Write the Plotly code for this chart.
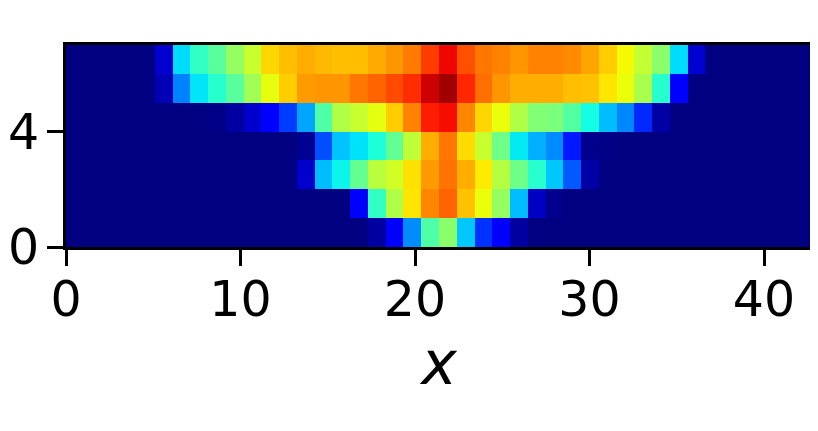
"""Jet heatmap of a 42 x 7 field, axes in the matplotlib look."""

import plotly.graph_objects as go

# one list per row, bottom row first, values on a 0-1 scale
row0 = [0] * 17 + [.028, .11, .262, .447, .52, .321, .174, .11, .028] + [0] * 16
row1 = [0] * 16 + [.11, .411, .563, .666, .767, .804, .704, .636, .532, .311, .06, .01] + [0] * 14
row2 = [0] * 13 + [.067, .311, .365, .472, .575, .605, .672, .746, .788, .725, .661, .569, .484, .399, .321, .213, .034] + [0] * 12
row3 = [0] * 13 + [.015, .203, .316, .346, .386, .472, .581, .725, .783, .677, .593, .484, .355, .297, .262, .15, .01, .005] + [0] * 11
row4 = [0] * 8 + [.005, .028, .067, .11, .184, .287, .447, .563, .593, .63, .693, .772, .878, .897, .767, .682, .636, .563,
                  .508, .502, .453, .374, .311, .257, .164, .034] + [0] * 8
row5 = [0] * 5 + [.045, .252, .35, .399, .459, .545, .63, .693, .746, .751, .751, .783, .804, .831, .862, .933, .972, .868,
                  .793, .751, .725, .725, .725, .709, .704, .666, .636, .557, .399, .11] + [0] * 7
row6 = [0] * 5 + [.07, .341, .411, .459, .532, .593, .682, .709, .725, .714, .709, .709, .73, .751, .778, .846, .903, .825,
                  .783, .772, .751, .772, .772, .762, .735, .693, .645, .587, .52, .341, .07] + [0] * 6
z_rows = [row0, row1, row2, row3, row4, row5, row6]

x_ticks = [0, 10, 20, 30, 40]
y_ticks = [0, 4]
x_max = 42.75

# matplotlib's jet, plotly's built-in one has different stops
jet = [
    [0, "rgb(0,0,128)"], [.11, "rgb(0,0,255)"], [.125, "rgb(0,0,255)"], [.34, "rgb(0,219,255)"],
    [.35, "rgb(0,229,247)"], [.375, "rgb(20,255,226)"], [.64, "rgb(238,255,8)"], [.65, "rgb(247,245,0)"],
    [.66, "rgb(255,236,0)"], [.89, "rgb(255,18,0)"], [.91, "rgb(232,0,0)"], [1, "rgb(128,0,0)"],
]

fig = go.Figure(
    go.Heatmap(z=z_rows, x0=x_max / 42 / 2, dx=x_max / 42, y0=0.5, dy=1, colorscale=jet, zmin=0, zmax=1, showscale=False)
)

# template turns automargin on, which would drag the plot area around
axis_style = dict(
    showgrid=False, zeroline=False, showline=True, mirror=True, linecolor="black", linewidth=3,
    ticks="outside", ticklen=16, tickwidth=3, tickcolor="black", automargin=False,
)
fig.update_xaxes(
    range=[0, x_max], tickvals=x_ticks, ticklabelstandoff=-9,
    title=dict(text="<i>x</i>", font=dict(size=60), standoff=10), **axis_style
)
fig.update_yaxes(range=[0, 7], tickvals=y_ticks, ticklabelstandoff=-2, **axis_style)
fig.update_layout(
    width=810, height=415,
    margin=dict(l=58, r=6, t=37, b=176),
    paper_bgcolor="white", plot_bgcolor="white",
    font=dict(family="DejaVu Sans", size=49, color="black"),
)
fig.write_html("out.html")
